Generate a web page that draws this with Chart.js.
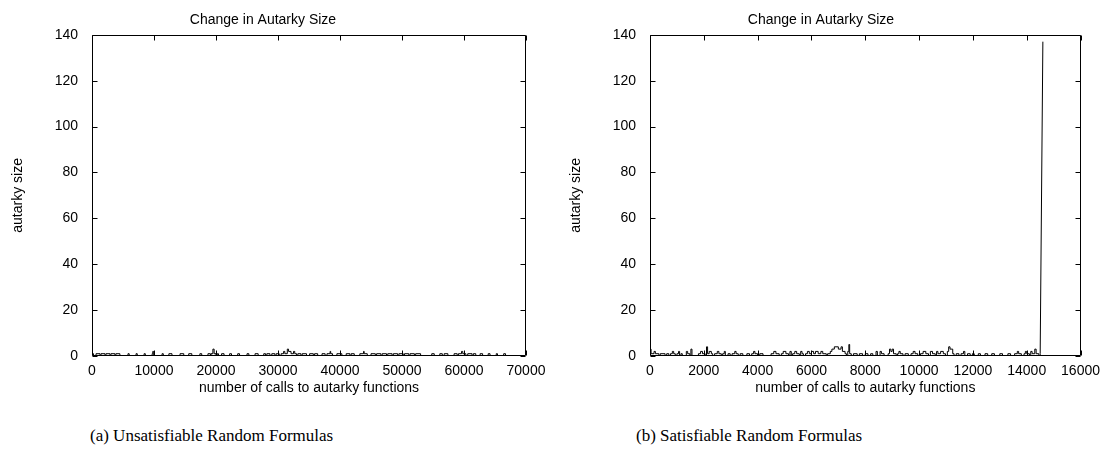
<!DOCTYPE html>
<html>
<head>
<meta charset="utf-8">
<script src="https://cdn.jsdelivr.net/npm/chart.js@4.4.0/dist/chart.umd.min.js"></script>
<style>
  body { margin: 0; background: #fff; width: 1107px; height: 464px; position: relative; overflow: hidden; }
  canvas { position: absolute; top: 0; }
  .cap { position: absolute; top: 426px; font-family: "Liberation Serif", serif; font-size: 17px; color: #000; white-space: nowrap; }
</style>
</head>
<body>
<canvas id="unsatChart" width="553" height="400" style="left:0"></canvas>
<canvas id="satChart" width="549" height="400" style="left:558px"></canvas>
<div class="cap" style="left:90px">(a) Unsatisfiable Random Formulas</div>
<div class="cap" style="left:636px">(b) Satisfiable Random Formulas</div>
<script>
// autarky size after each call, stored as (call where the value starts, value)
const unsatCalls = [0, 250, 650, 1300, 1450, 2100, 2250, 2900, 3050, 3700, 3850, 4500,
  5800, 6000, 7100, 7300, 8400, 8600, 9700, 9800, 9950, 11300, 11500, 12400, 12900,
  14200, 14800, 15600, 16100, 17400, 17700, 18700, 19100, 19200, 19500, 19700, 20000, 20200, 20400,
  20900, 21300, 22200, 22500, 23500, 23800, 25000, 25300, 26300, 26800,
  27700, 28000, 28200, 28700, 29000, 29500, 29700, 30200,
  30500, 30900, 31100, 31500, 31700, 32100, 32500, 32700, 33000,
  33200, 33700, 33900, 34600, 35100, 35700, 35900, 36400,
  37100, 37600, 37900, 38400, 38500, 38800, 39500, 40300, 41000, 41600, 41800, 42300,
  43200, 43800, 43900, 44400, 45000, 45700, 45900, 46600, 46800, 47500, 47700, 48400,
  48600, 49300, 49500, 50200, 50400, 51100, 51300, 52000, 52200, 53000,
  54800, 55200, 56100, 56500, 56800, 57400, 58400, 58900, 59100, 59600, 59800, 60300,
  60600, 61300, 61500, 61900, 62600, 63000, 63900, 64200, 65200, 65400, 66400, 66700, 67000]
const unsatSize = [1, 0, 1, 0, 1, 0, 1, 0, 1, 0, 1, 0,
  1, 0, 1, 0, 1, 0, 1, 2, 0, 1, 0, 1, 0,
  1, 0, 1, 0, 1, 0, 1, 0, 1, 3, 1, 0, 1, 0,
  1, 0, 1, 0, 1, 0, 1, 0, 1, 0,
  1, 0, 1, 0, 1, 0, 1, 0,
  1, 2, 1, 3, 2, 1, 2, 1, 0,
  1, 0, 1, 0, 1, 0, 1, 0,
  1, 0, 1, 2, 1, 0, 1, 0, 1, 0, 1, 0,
  1, 2, 1, 0, 1, 0, 1, 0, 1, 0, 1, 0,
  1, 0, 1, 0, 1, 0, 1, 0, 1, 0,
  1, 0, 1, 0, 1, 0, 1, 0, 1, 2, 1, 0,
  1, 0, 1, 0, 1, 0, 1, 0, 1, 0, 1, 0, 0]

const satCalls = [0, 40, 150, 200, 330, 380, 560, 620, 700,
  760, 830, 880, 940, 1000, 1060, 1100, 1150, 1200,
  1350, 1400, 1480, 1520, 1560,
  1800, 1880, 1950, 2050, 2100, 2140, 2200, 2280, 2330,
  2400, 2500, 2560, 2650, 2700, 2760, 2800,
  2900, 2980, 3050, 3150, 3200, 3280, 3350, 3450,
  3600, 3700, 3780, 3850, 3900, 4000, 4080, 4200,
  4500, 4600, 4680, 4800, 4880, 4950, 5050, 5150, 5200, 5250,
  5300, 5380, 5450, 5550, 5600, 5650,
  5700, 5780, 5850, 5920, 6000, 6080, 6150, 6250, 6350, 6420, 6550, 6600, 6700,
  6760, 6850, 7000, 7100, 7150, 7250,
  7300, 7350, 7390, 7420, 7480,
  7560, 7700, 7780, 7900, 8000, 8100, 8200, 8280,
  8400, 8450, 8550, 8600, 8700,
  8850, 8900, 8950, 9000, 9050, 9150, 9200, 9250,
  9300, 9400, 9480, 9600, 9700, 9780, 9850, 9950, 10050, 10150, 10250, 10350, 10420, 10500, 10600, 10650,
  10700, 10800, 10900, 10980,
  11050, 11100, 11150, 11250,
  11300, 11380, 11480, 11560, 11650, 11700, 11800, 11900, 11980,
  12050, 12200, 12280, 12450, 12550, 12700, 12800,
  13000, 13100, 13300, 13400, 13550, 13650, 13700, 13800, 13900, 13950, 14000, 14100, 14150, 14200, 14300, 14350, 14450, 14500]
const satSize = [3, 1, 2, 1, 0, 1, 0, 1, 0,
  1, 2, 1, 0, 1, 2, 0, 1, 0,
  2, 1, 0, 3, 0,
  1, 2, 1, 0, 4, 1, 2, 1, 0,
  1, 2, 1, 0, 1, 2, 0,
  1, 0, 1, 2, 1, 0, 1, 0,
  1, 0, 1, 2, 1, 0, 1, 0,
  1, 2, 1, 0, 1, 2, 1, 0, 2, 0,
  1, 2, 1, 0, 2, 1,
  0, 1, 2, 1, 2, 1, 2, 1, 2, 1, 0, 1, 2,
  3, 4, 3, 4, 2, 1,
  0, 2, 5, 1, 0,
  1, 0, 1, 0, 1, 0, 1, 0,
  2, 0, 2, 1, 0,
  1, 3, 2, 3, 1, 0, 1, 2,
  1, 0, 1, 0, 1, 2, 1, 0, 1, 2, 1, 0, 2, 1, 0, 2,
  1, 2, 1, 0,
  2, 4, 3, 1,
  0, 1, 0, 1, 2, 0, 1, 0, 1,
  0, 1, 0, 1, 0, 1, 0,
  1, 0, 1, 0, 1, 2, 1, 0, 1, 2, 1, 0, 2, 1, 3, 1, 0, 1]
// the last jump, once the formula is satisfied
const satEndCalls = [14500, 14600]
const satEndSize = [1, 137]

const sizeTicks = [0, 20, 40, 60, 80, 100, 120, 140]
const unsatCallTicks = [0, 10000, 20000, 30000, 40000, 50000, 60000, 70000]
const satCallTicks = [0, 2000, 4000, 6000, 8000, 10000, 12000, 14000, 16000]

const frame = {
  id: "frame",
  afterDatasetsDraw(chart) {
    const { ctx, chartArea: a, scales } = chart
    const l = Math.round(a.left) + 0.5, r = Math.round(a.right) - 0.5
    const t = Math.round(a.top) + 0.5, b = Math.round(a.bottom) - 0.5
    ctx.save()
    ctx.strokeStyle = "#000"
    ctx.lineWidth = 1
    ctx.beginPath()
    ctx.rect(l, t, r - l, b - t)
    scales.x.ticks.forEach((tk) => {
      const px = Math.round(scales.x.getPixelForValue(tk.value)) + 0.5
      ctx.moveTo(px, b); ctx.lineTo(px, b - 5)
      ctx.moveTo(px, t); ctx.lineTo(px, t + 5)
    })
    scales.y.ticks.forEach((tk) => {
      const py = Math.round(scales.y.getPixelForValue(tk.value)) + 0.5
      ctx.moveTo(l, py); ctx.lineTo(l + 5, py)
      ctx.moveTo(r, py); ctx.lineTo(r - 5, py)
    })
    ctx.stroke()
    ctx.restore()
  },
}

function points(xs, ys) {
  return xs.map((x, i) => ({ x: x, y: ys[i] }))
}

function makeChart(id, datasets, xMax, xTicks, padRight) {
  const font = { family: "'Liberation Sans', Arial, sans-serif", size: 14 }
  return new Chart(document.getElementById(id), {
    type: "line",
    data: { datasets: datasets },
    options: {
      responsive: false,
      animation: false,
      devicePixelRatio: 1,
      layout: { padding: { left: 0, right: padRight, top: 0, bottom: 0 } },
      plugins: {
        legend: { display: false },
        tooltip: { enabled: false },
        title: {
          display: true,
          text: "Change in Autarky Size",
          color: "#000",
          font: { family: font.family, size: 14, weight: "normal" },
          padding: { top: 12, bottom: 6 },
        },
      },
      scales: {
        x: {
          type: "linear",
          min: 0,
          max: xMax,
          afterBuildTicks: (s) => { s.ticks = xTicks.map((v) => ({ value: v })) },
          afterFit: (s) => { s.height = 44 },
          grid: { display: false, drawTicks: false },
          border: { display: false },
          ticks: { color: "#000", font: font, padding: 7, maxRotation: 0, autoSkip: false, callback: (v) => String(v) },
          title: { display: true, text: "number of calls to autarky functions", color: "#000", font: font, padding: { top: 0, bottom: 3 } },
        },
        y: {
          min: 0,
          max: 140,
          afterBuildTicks: (s) => { s.ticks = sizeTicks.map((v) => ({ value: v })) },
          afterFit: (s) => { s.width = 92 },
          grid: { display: false, drawTicks: false },
          border: { display: false },
          ticks: { color: "#000", font: font, padding: 14, callback: (v) => String(v) },
          title: { display: true, text: "autarky size", color: "#000", font: font, padding: { top: 10, bottom: 0 } },
        },
      },
    },
    plugins: [frame],
  })
}

const lineStyle = { borderColor: "#000", borderWidth: 1, pointRadius: 0, tension: 0, fill: false }

makeChart("unsatChart", [
  { ...lineStyle, data: points(unsatCalls, unsatSize), stepped: true },
], 70000, unsatCallTicks, 27)

makeChart("satChart", [
  { ...lineStyle, data: points(satCalls, satSize), stepped: true },
  { ...lineStyle, data: points(satEndCalls, satEndSize) },
], 16000, satCallTicks, 23)
</script>
</body>
</html>
